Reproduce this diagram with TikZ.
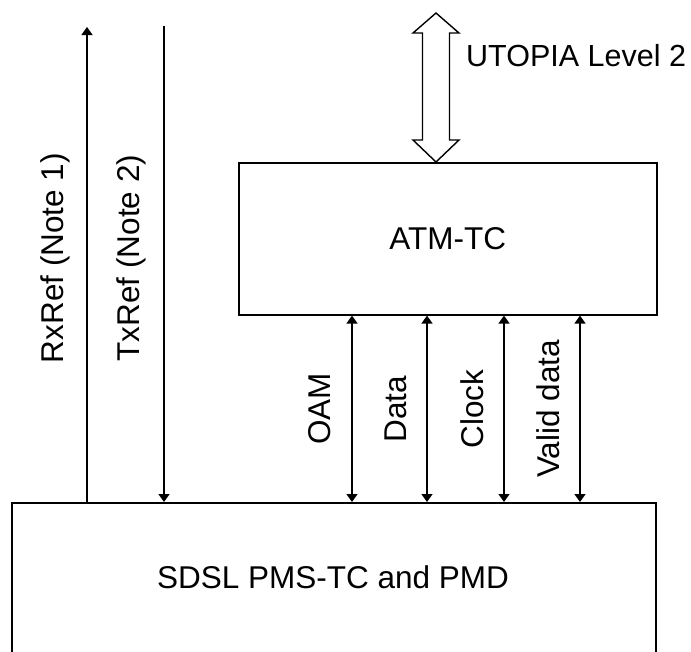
\documentclass[tikz,border=0pt]{standalone}
\usepackage{fontspec}
\setmainfont{Liberation Sans}
\usetikzlibrary{arrows.meta}
\begin{document}
\begin{tikzpicture}[x=1pt,y=-1pt,
  box/.style={draw,line width=1.6pt,inner sep=0pt},
  lbl/.style={font=\fontsize{31.5}{37}\selectfont,inner sep=0pt},
  vlbl/.style={lbl,rotate=90,anchor=center},
  tip/.tip={Triangle[width=11pt,length=8pt]},
  sig/.style={line width=1.4pt,-tip},
  bisig/.style={line width=1.4pt,tip-tip},
  hollow/.style={draw,line width=1.4pt,fill=white,line join=miter}]
\useasboundingbox (0,0) rectangle (691,651);
% boxes
\node[box,minimum width=418pt,minimum height=152pt,anchor=north west] (atm) at (238,162) {};
\node[lbl] (atmtxt) at (atm.center) {ATM-TC};
\node[box,minimum width=644pt,minimum height=300pt,anchor=north west] (bot) at (11,502) {};
\node[lbl] (bottxt) at (333,577) {SDSL PMS-TC and PMD};
% hollow UTOPIA arrow
\coordinate (utop) at (436,13);
\draw[hollow] (utop) -- ++(23,20) -- ++(-9.5,0) -- ++(0,107) -- ++(9.5,0)
  -- (atm.north -| utop) -- ++(-23,-22) -- ++(9.5,0) -- ++(0,-107) -- ++(-9.5,0) -- cycle;
\node[lbl,anchor=west,font=\fontsize{30.5}{36}\selectfont] (utopia) at (466,56) {UTOPIA Level 2};
% reference lines
\coordinate (rxtop) at (87,27);
\coordinate (txtop) at (164,26);
\draw[sig] (bot.north -| rxtop) -- (rxtop);
\draw[sig] (txtop) -- (bot.north -| txtop);
\node[vlbl] (rxl) at (55,258) {RxRef (Note 1)};
\node[vlbl] (txl) at (131,258) {TxRef (Note 2)};
% interface signals
\coordinate (oamx) at (352,0);
\coordinate (datax) at (427,0);
\coordinate (clkx) at (504,0);
\coordinate (valx) at (580,0);
\draw[bisig] (atm.south -| oamx) -- (bot.north -| oamx);
\draw[bisig] (atm.south -| datax) -- (bot.north -| datax);
\draw[bisig] (atm.south -| clkx) -- (bot.north -| clkx);
\draw[bisig] (atm.south -| valx) -- (bot.north -| valx);
\node[vlbl] (oaml) at (320,409) {OAM};
\node[vlbl] (datal) at (396,409) {Data};
\node[vlbl] (clkl) at (472,409) {Clock};
\node[vlbl] (vall) at (548,409) {Valid data};
\end{tikzpicture}
\end{document}
